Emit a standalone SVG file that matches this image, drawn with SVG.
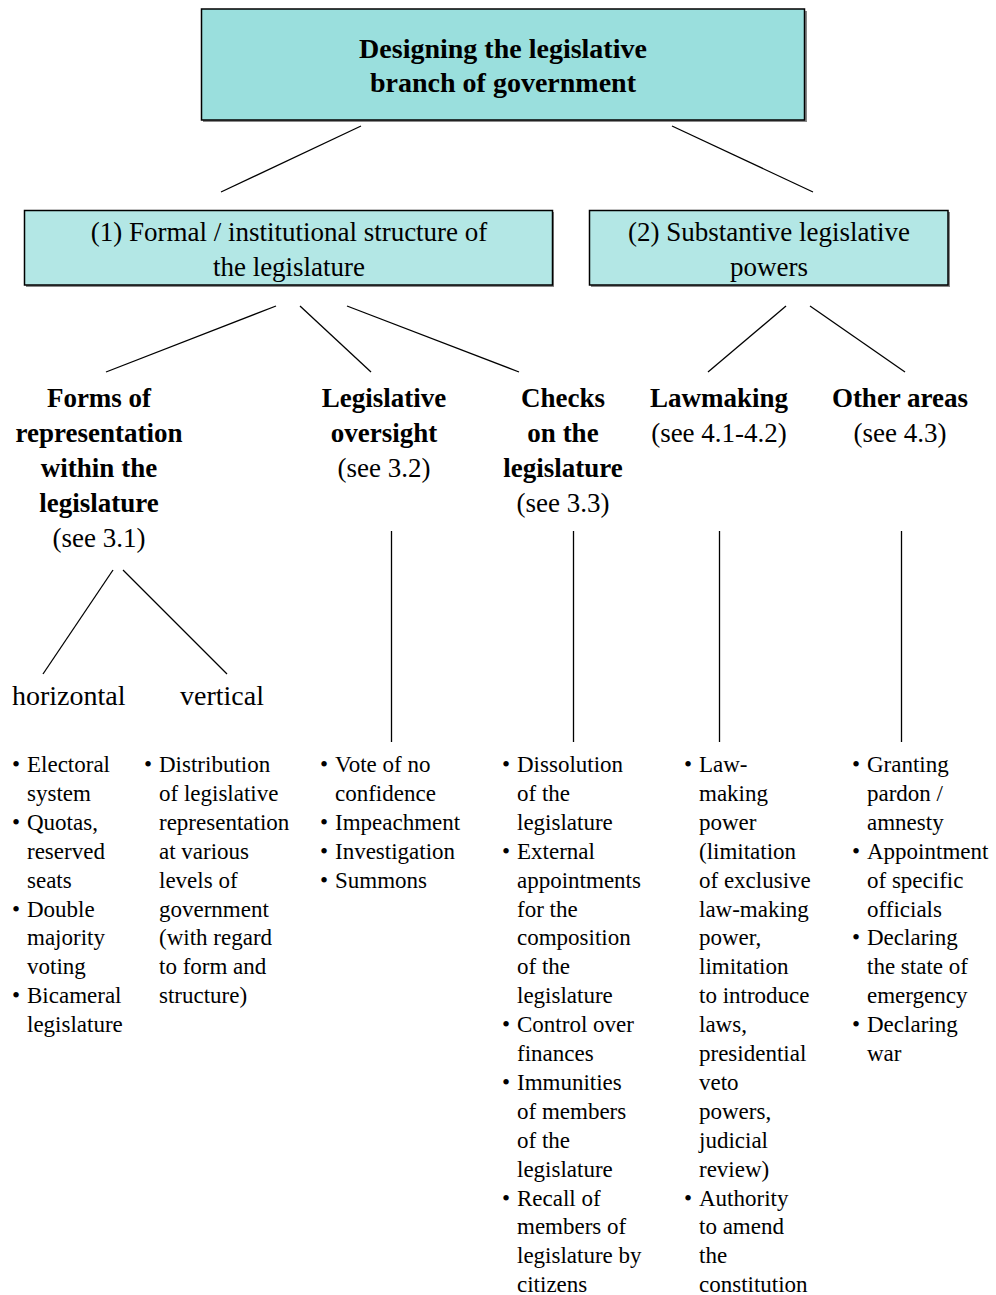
<svg xmlns="http://www.w3.org/2000/svg" width="996" height="1295" viewBox="0 0 996 1295">
<style>
text{font-family:"Liberation Serif","Times New Roman",serif;fill:#000}
.title{font-size:28px;font-weight:bold;text-anchor:middle}
.box2t{font-size:27px;text-anchor:middle}
.hd{font-size:27px;text-anchor:middle}
.b{font-weight:bold}
.sub{font-size:28px}
.li{font-size:23px}
.box1{fill:#9ADFDD;stroke:#000;stroke-width:1.5}
.box2{fill:#B3E7E5;stroke:#000;stroke-width:1.5}
.sh{fill:#888}
.con line{stroke:#000;stroke-width:1.3}
</style>
<g id="node-root">
<rect class="sh" x="203" y="11" width="604" height="111"/>
<rect class="box1" x="201.5" y="9" width="603" height="111"/>
<text class="title"><tspan x="503" y="58">Designing the legislative</tspan><tspan x="503" y="92">branch of government</tspan></text>
</g>
<g id="node-formal">
<rect class="sh" x="26" y="212" width="528" height="75"/>
<rect class="box2" x="24.5" y="210.5" width="528" height="74.5"/>
<text class="box2t"><tspan x="289" y="241">(1) Formal / institutional structure of</tspan><tspan x="289" y="276">the legislature</tspan></text>
</g>
<g id="node-substantive">
<rect class="sh" x="591" y="212" width="359" height="75"/>
<rect class="box2" x="589.5" y="210.5" width="358.5" height="74.5"/>
<text class="box2t"><tspan x="769" y="241">(2) Substantive legislative</tspan><tspan x="769" y="276">powers</tspan></text>
</g>
<g id="node-forms">
<text class="hd"><tspan class="b" x="99" y="407">Forms of</tspan><tspan class="b" x="99" y="442">representation</tspan><tspan class="b" x="99" y="477">within the</tspan><tspan class="b" x="99" y="512">legislature</tspan><tspan x="99" y="547">(see 3.1)</tspan></text>
</g>
<g id="node-oversight">
<text class="hd"><tspan class="b" x="384" y="407">Legislative</tspan><tspan class="b" x="384" y="442">oversight</tspan><tspan x="384" y="477">(see 3.2)</tspan></text>
</g>
<g id="node-checks">
<text class="hd"><tspan class="b" x="563" y="407">Checks</tspan><tspan class="b" x="563" y="442">on the</tspan><tspan class="b" x="563" y="477">legislature</tspan><tspan x="563" y="512">(see 3.3)</tspan></text>
</g>
<g id="node-lawmaking">
<text class="hd"><tspan class="b" x="719" y="407">Lawmaking</tspan><tspan x="719" y="442">(see 4.1-4.2)</tspan></text>
</g>
<g id="node-other">
<text class="hd"><tspan class="b" x="900" y="407">Other areas</tspan><tspan x="900" y="442">(see 4.3)</tspan></text>
</g>
<g id="node-horizontal"><text class="sub" x="12" y="705">horizontal</text></g>
<g id="node-vertical"><text class="sub" x="180" y="705">vertical</text></g>
<g id="list-horizontal">
<text class="li"><tspan x="12" y="772">•</tspan><tspan x="27" y="772">Electoral</tspan><tspan x="27" y="800.9">system</tspan><tspan x="12" y="829.8">•</tspan><tspan x="27" y="829.8">Quotas,</tspan><tspan x="27" y="858.7">reserved</tspan><tspan x="27" y="887.6">seats</tspan><tspan x="12" y="916.5">•</tspan><tspan x="27" y="916.5">Double</tspan><tspan x="27" y="945.4">majority</tspan><tspan x="27" y="974.3">voting</tspan><tspan x="12" y="1003.2">•</tspan><tspan x="27" y="1003.2">Bicameral</tspan><tspan x="27" y="1032.1">legislature</tspan></text>
</g>
<g id="list-vertical">
<text class="li"><tspan x="144" y="772">•</tspan><tspan x="159" y="772">Distribution</tspan><tspan x="159" y="800.9">of legislative</tspan><tspan x="159" y="829.8">representation</tspan><tspan x="159" y="858.7">at various</tspan><tspan x="159" y="887.6">levels of</tspan><tspan x="159" y="916.5">government</tspan><tspan x="159" y="945.4">(with regard</tspan><tspan x="159" y="974.3">to form and</tspan><tspan x="159" y="1003.2">structure)</tspan></text>
</g>
<g id="list-oversight">
<text class="li"><tspan x="320" y="772">•</tspan><tspan x="335" y="772">Vote of no</tspan><tspan x="335" y="800.9">confidence</tspan><tspan x="320" y="829.8">•</tspan><tspan x="335" y="829.8">Impeachment</tspan><tspan x="320" y="858.7">•</tspan><tspan x="335" y="858.7">Investigation</tspan><tspan x="320" y="887.6">•</tspan><tspan x="335" y="887.6">Summons</tspan></text>
</g>
<g id="list-checks">
<text class="li"><tspan x="502" y="772">•</tspan><tspan x="517" y="772">Dissolution</tspan><tspan x="517" y="800.9">of the</tspan><tspan x="517" y="829.8">legislature</tspan><tspan x="502" y="858.7">•</tspan><tspan x="517" y="858.7">External</tspan><tspan x="517" y="887.6">appointments</tspan><tspan x="517" y="916.5">for the</tspan><tspan x="517" y="945.4">composition</tspan><tspan x="517" y="974.3">of the</tspan><tspan x="517" y="1003.2">legislature</tspan><tspan x="502" y="1032.1">•</tspan><tspan x="517" y="1032.1">Control over</tspan><tspan x="517" y="1061">finances</tspan><tspan x="502" y="1089.9">•</tspan><tspan x="517" y="1089.9">Immunities</tspan><tspan x="517" y="1118.8">of members</tspan><tspan x="517" y="1147.7">of the</tspan><tspan x="517" y="1176.6">legislature</tspan><tspan x="502" y="1205.5">•</tspan><tspan x="517" y="1205.5">Recall of</tspan><tspan x="517" y="1234.4">members of</tspan><tspan x="517" y="1263.3">legislature by</tspan><tspan x="517" y="1292.2">citizens</tspan></text>
</g>
<g id="list-lawmaking">
<text class="li"><tspan x="684" y="772">•</tspan><tspan x="699" y="772">Law-</tspan><tspan x="699" y="800.9">making</tspan><tspan x="699" y="829.8">power</tspan><tspan x="699" y="858.7">(limitation</tspan><tspan x="699" y="887.6">of exclusive</tspan><tspan x="699" y="916.5">law-making</tspan><tspan x="699" y="945.4">power,</tspan><tspan x="699" y="974.3">limitation</tspan><tspan x="699" y="1003.2">to introduce</tspan><tspan x="699" y="1032.1">laws,</tspan><tspan x="699" y="1061">presidential</tspan><tspan x="699" y="1089.9">veto</tspan><tspan x="699" y="1118.8">powers,</tspan><tspan x="699" y="1147.7">judicial</tspan><tspan x="699" y="1176.6">review)</tspan><tspan x="684" y="1205.5">•</tspan><tspan x="699" y="1205.5">Authority</tspan><tspan x="699" y="1234.4">to amend</tspan><tspan x="699" y="1263.3">the</tspan><tspan x="699" y="1292.2">constitution</tspan></text>
</g>
<g id="list-other">
<text class="li"><tspan x="852" y="772">•</tspan><tspan x="867" y="772">Granting</tspan><tspan x="867" y="800.9">pardon /</tspan><tspan x="867" y="829.8">amnesty</tspan><tspan x="852" y="858.7">•</tspan><tspan x="867" y="858.7">Appointment</tspan><tspan x="867" y="887.6">of specific</tspan><tspan x="867" y="916.5">officials</tspan><tspan x="852" y="945.4">•</tspan><tspan x="867" y="945.4">Declaring</tspan><tspan x="867" y="974.3">the state of</tspan><tspan x="867" y="1003.2">emergency</tspan><tspan x="852" y="1032.1">•</tspan><tspan x="867" y="1032.1">Declaring</tspan><tspan x="867" y="1061">war</tspan></text>
</g>
<g id="connectors" class="con">
<line x1="361" y1="126" x2="221" y2="192"/>
<line x1="672" y1="126" x2="813" y2="192"/>
<line x1="276" y1="306" x2="106" y2="372"/>
<line x1="300" y1="306" x2="371" y2="372"/>
<line x1="347" y1="306" x2="519" y2="372"/>
<line x1="786" y1="306" x2="708" y2="372"/>
<line x1="810" y1="306" x2="905" y2="372"/>
<line x1="113" y1="570" x2="43" y2="674"/>
<line x1="123" y1="570" x2="227" y2="674"/>
<line x1="391.5" y1="531" x2="391.5" y2="742"/>
<line x1="573.5" y1="531" x2="573.5" y2="742"/>
<line x1="719.5" y1="531" x2="719.5" y2="742"/>
<line x1="901.5" y1="531" x2="901.5" y2="742"/>
</g>
</svg>
